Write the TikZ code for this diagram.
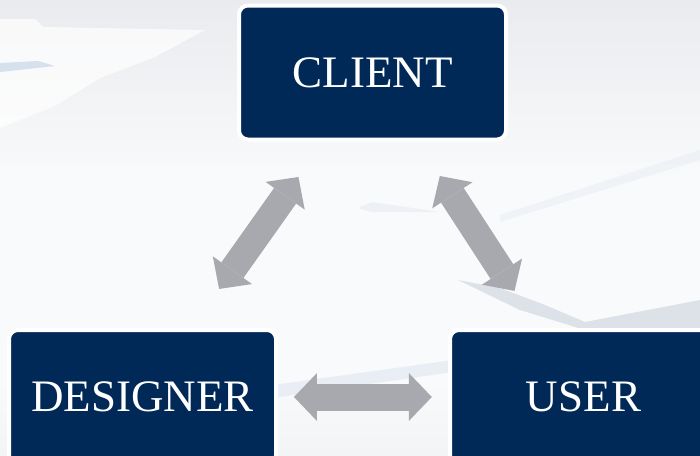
\documentclass[tikz,border=0pt]{standalone}
\usepackage{fontspec}
\setmainfont{Liberation Serif}
\usetikzlibrary{calc,arrows.meta}
\definecolor{navy}{RGB}{0,41,87}
\definecolor{arrowgray}{RGB}{167,169,174}
\definecolor{bgtop}{RGB}{233,235,238}
\definecolor{bgmid}{RGB}{249,250,251}
\definecolor{bgbot}{RGB}{243,244,246}
\definecolor{streak}{RGB}{214,225,238}
\definecolor{band}{RGB}{221,226,233}
\definecolor{faint}{RGB}{233,238,244}

\begin{document}
\begin{tikzpicture}[x=1pt,y=-1pt,
	box/.style={draw=white,line width=4pt,fill=navy,rounded corners=9pt,minimum width=267pt,minimum height=134pt,text=white,font=\fontsize{45}{54}\selectfont},
	duo/.style={line width=27pt,draw=arrowgray,{Triangle[length=23pt,width=48pt,line width=0pt]}-{Triangle[length=23pt,width=48pt,line width=0pt]}}]
			\useasboundingbox (0,0) rectangle (700,455);
			\clip (0,0) rectangle (700,455);
			\fill[bgmid] (0,0) rectangle (700,455);
			\shade[top color=bgtop,bottom color=bgmid] (0,0) rectangle (700,180);
			\shade[top color=bgmid,bottom color=bgbot] (0,380) rectangle (700,455);
			\fill[white,opacity=0.7] (0,19) -- (35,19) -- (43,27) -- (205,30) -- (155,57) -- (100,78) -- (55,106) -- (0,128) -- cycle;
			\fill[streak] (0,63) -- (38,61) -- (55,66) -- (0,72) -- cycle;
			\fill[faint,opacity=0.6] (500,215) -- (700,150) -- (700,160) -- (500,222) -- cycle;
			\fill[faint,opacity=0.7] (358,208) -- (372,202) -- (440,212) -- (372,212) -- cycle;
			\fill[band] (458,280) -- (500,288) -- (545,305) -- (585,322) -- (700,300) -- (700,328) -- (585,330) -- (520,310) -- cycle;
			\fill[faint] (273,385) -- (453,360) -- (453,372) -- (273,398) -- cycle;
			\node[box] (0) at (372.5,72.5) {CLIENT};
			\node[box] (1) at (142.5,397) {DESIGNER};
			\node[box] (2) at (583.5,397) {USER};
			\draw[duo] ($(1)!0.333!(0)$) -- ($(1)!0.678!(0)$);
			\draw[duo] ($(0)!0.319!(2)$) -- ($(0)!0.673!(2)$);
			\draw[duo] ($(1)!0.3435!(2)$) -- ($(1)!0.656!(2)$);
\end{tikzpicture}
\end{document}
